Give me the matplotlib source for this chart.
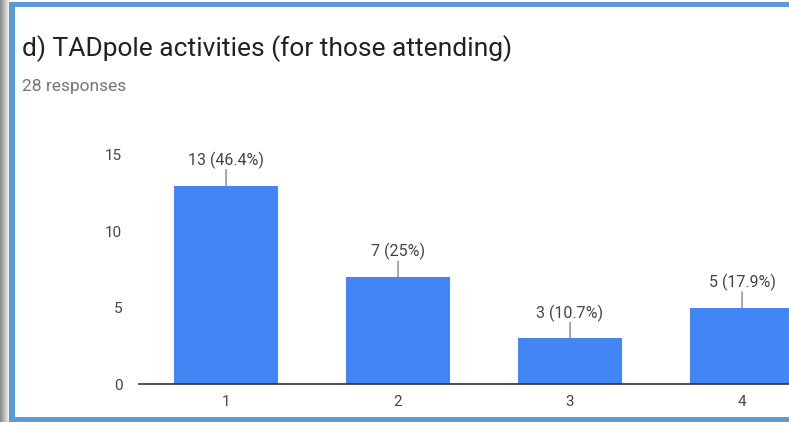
import matplotlib.pyplot as plt
import matplotlib.patches as mpatches
import numpy as np

plt.rcParams["font.family"] = ["Roboto", "DejaVu Sans"]

# 응답 자료
categories = ["1", "2", "3", "4"]
counts = [13, 7, 3, 5]
percents = ["46.4%", "25%", "10.7%", "17.9%"]
title = "d) TADpole activities (for those attending)"
subtitle = "28 responses"

W, H = 789, 422
fig = plt.figure(figsize=(W / 100, H / 100), dpi=100)
fig.patch.set_facecolor("white")

# 창 테두리 (회색 띠 + 파란 테두리)
grad = np.linspace(0.55, 0.92, 9)
for i, g in enumerate(grad):
    fig.add_artist(mpatches.Rectangle((i / W, 0), 1 / W, 1, transform=fig.transFigure,
                                      color=(g, g, g), lw=0))
blue = "#5b9bd5"
fig.add_artist(mpatches.Rectangle((9 / W, 0), 6 / W, 1 - 2 / H, transform=fig.transFigure,
                                  color=blue, lw=0))
fig.add_artist(mpatches.Rectangle((9 / W, 1 - 7 / H), 1, 5 / H, transform=fig.transFigure,
                                  color=blue, lw=0))
fig.add_artist(mpatches.Rectangle((9 / W, 0), 1, 5 / H, transform=fig.transFigure,
                                  color=blue, lw=0))

fig.text(22 / W, 1 - 49 / H, title, fontsize=19, color="#212121", va="center", ha="left")
fig.text(22 / W, 1 - 86 / H, subtitle, fontsize=12.5, color="#757575", va="center", ha="left")

# 막대 그래프 영역
ax_left, ax_bottom = 139 / W, (H - 384) / H
ax = fig.add_axes([ax_left, ax_bottom, 1 - ax_left, (384 - 155) / H])
x = np.arange(1, len(categories) + 1)
ax.bar(x, counts, width=0.6, color="#4285f4", zorder=2)
ax.set_xlim(0.494, 4.273)
ax.set_ylim(0, 15)
ax.set_yticks([0, 5, 10, 15])
ax.set_xticks(x)
ax.set_xticklabels(categories)
for s in ["top", "right", "left"]:
    ax.spines[s].set_visible(False)
ax.spines["bottom"].set_color("#333333")
ax.spines["bottom"].set_linewidth(1.2)
ax.spines["bottom"].set_zorder(3)
ax.tick_params(axis="both", length=0, labelsize=11, labelcolor="#444444")
ax.tick_params(axis="y", pad=12)
ax.tick_params(axis="x", pad=8)

for xi, c, p in zip(x, counts, percents):
    ax.annotate("", xy=(xi, c), xytext=(0, 11.5), textcoords="offset points",
                arrowprops=dict(arrowstyle="-", color="#666666", lw=0.8,
                                shrinkA=0, shrinkB=0), annotation_clip=False)
    ax.annotate(f"{c} ({p})", xy=(xi, c), xytext=(0, 12), textcoords="offset points",
                ha="center", va="bottom", fontsize=11.5, color="#444444",
                annotation_clip=False)

fig.savefig("out.png", dpi=100)
